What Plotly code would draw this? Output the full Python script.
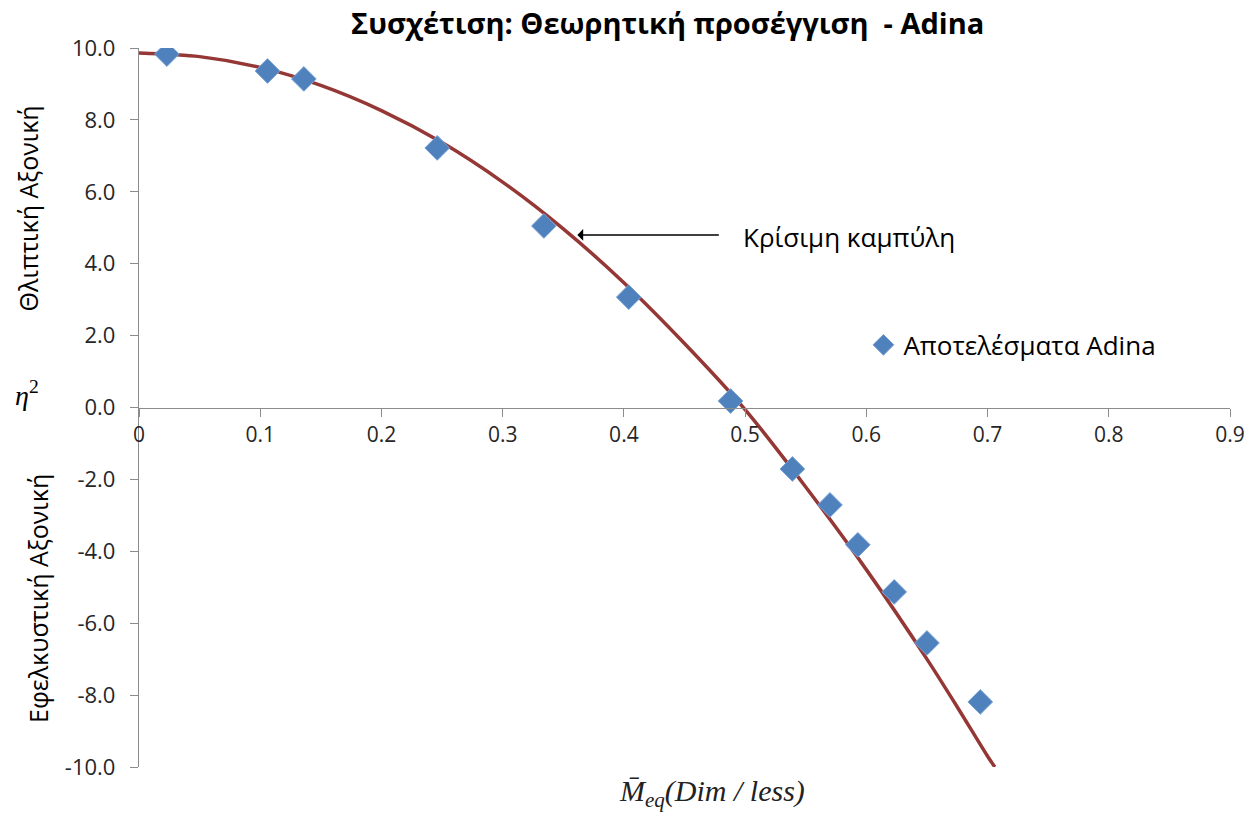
import plotly.graph_objects as go

# Adina results (markers)
adina_x = [0.023, 0.106, 0.136, 0.246, 0.334, 0.404, 0.488, 0.539, 0.570, 0.593, 0.623, 0.650, 0.694]
adina_y = [9.83, 9.36, 9.14, 7.22, 5.05, 3.07, 0.18, -1.71, -2.71, -3.82, -5.13, -6.55, -8.19]

# Critical (theoretical) curve
curve_x = [0.0, 0.05, 0.10, 0.15, 0.20, 0.25, 0.30, 0.35, 0.40, 0.45, 0.50, 0.55, 0.60, 0.65, 0.675, 0.70, 0.706]
curve_y = [9.86, 9.76, 9.46, 8.96, 8.26, 7.37, 6.27, 4.97, 3.47, 1.78, -0.06, -2.21, -4.51, -7.00, -8.33, -9.70, -10.0]

x_ticks = [0, 0.1, 0.2, 0.3, 0.4, 0.5, 0.6, 0.7, 0.8, 0.9]
x_ticklabels = ["0", "0.1", "0.2", "0.3", "0.4", "0.5", "0.6", "0.7", "0.8", "0.9"]
y_ticks = [-10, -8, -6, -4, -2, 0, 2, 4, 6, 8, 10]
y_ticklabels = ["-10.0", "-8.0", "-6.0", "-4.0", "-2.0", "0.0", "2.0", "4.0", "6.0", "8.0", "10.0"]

FONT = "Open Sans"
TXT = "#262626"
AXC = "#8c8c8c"

fig = go.Figure()
fig.add_trace(go.Scatter(
    x=curve_x, y=curve_y, mode="lines",
    line=dict(color="#953735", width=3.5, shape="spline", smoothing=0.8),
    showlegend=False, hoverinfo="skip"))
fig.add_trace(go.Scatter(
    x=adina_x, y=adina_y, mode="markers", name="Αποτελέσματα Adina",
    marker=dict(symbol="diamond", size=19, color="#4F81BD", line=dict(color="#7aa3d6", width=1))))

fig.update_layout(
    width=1258, height=816,
    margin=dict(l=139, r=28, t=48, b=49),
    paper_bgcolor="white", plot_bgcolor="white",
    font=dict(family=FONT, color=TXT, size=20),
    xaxis=dict(range=[0, 0.9], tickvals=x_ticks, ticktext=x_ticklabels,
               showgrid=False, zeroline=False, showline=True, linecolor=AXC, linewidth=1.3,
               ticks="outside", ticklen=8, tickcolor=AXC, tickwidth=1.3,
               anchor="free", position=0.5, tickfont=dict(size=21, color=TXT)),
    yaxis=dict(range=[-10, 10], tickvals=y_ticks, ticktext=y_ticklabels,
               showgrid=False, zeroline=False, showline=True, linecolor=AXC, linewidth=1.3,
               ticks="outside", ticklen=8, tickcolor=AXC, tickwidth=1.3,
               ticklabelstandoff=10, tickfont=dict(size=22, color=TXT)),
    legend=dict(x=0.664, y=0.587, xanchor="left", yanchor="middle",
                font=dict(size=26, color="black"), bgcolor="rgba(0,0,0,0)"),
)

annotations = [
    dict(text="<b>Συσχέτιση: Θεωρητική προσέγγιση  - Adina</b>", x=0.484, y=1.036,
         xref="paper", yref="paper", xanchor="center", yanchor="middle", showarrow=False,
         font=dict(size=29, color="black", family=FONT)),
    dict(text="Θλιπτική Αξονική", x=-0.1017, y=0.777, xref="paper", yref="paper",
         xanchor="center", yanchor="middle",
         textangle=-90, showarrow=False, font=dict(size=25, color="black", family=FONT)),
    dict(text="<i>η</i><sup>2</sup>", x=-0.103, y=0.52, xref="paper", yref="paper",
         xanchor="center", yanchor="middle",
         showarrow=False, font=dict(size=28, color="black", family="Liberation Serif")),
    dict(text="Εφελκυστική Αξονική", x=-0.0926, y=0.235, xref="paper", yref="paper",
         xanchor="center", yanchor="middle",
         textangle=-90, showarrow=False, font=dict(size=25, color="black", family=FONT)),
    dict(text="<i>M̄</i><sub><i>eq</i></sub><i>(Dim / less)</i>", x=0.525, y=-0.066,
         xref="paper", yref="paper", xanchor="center", yanchor="bottom", showarrow=False,
         font=dict(size=30, color="#222", family="Liberation Serif")),
    dict(text="", x=0.3616, y=4.80, xref="x", yref="y", ax=143, ay=0,
         showarrow=True, arrowhead=1, arrowsize=1.3, arrowwidth=1.5, arrowcolor="black"),
    dict(text="Κρίσιμη καμπύλη", x=(741 - 139) / 1091, y=(767 - 237) / 719,
         xref="paper", yref="paper", xanchor="left", yanchor="middle", showarrow=False,
         font=dict(size=26, color="black", family=FONT)),
]
fig.update_layout(annotations=annotations)

fig.write_html("out.html")
